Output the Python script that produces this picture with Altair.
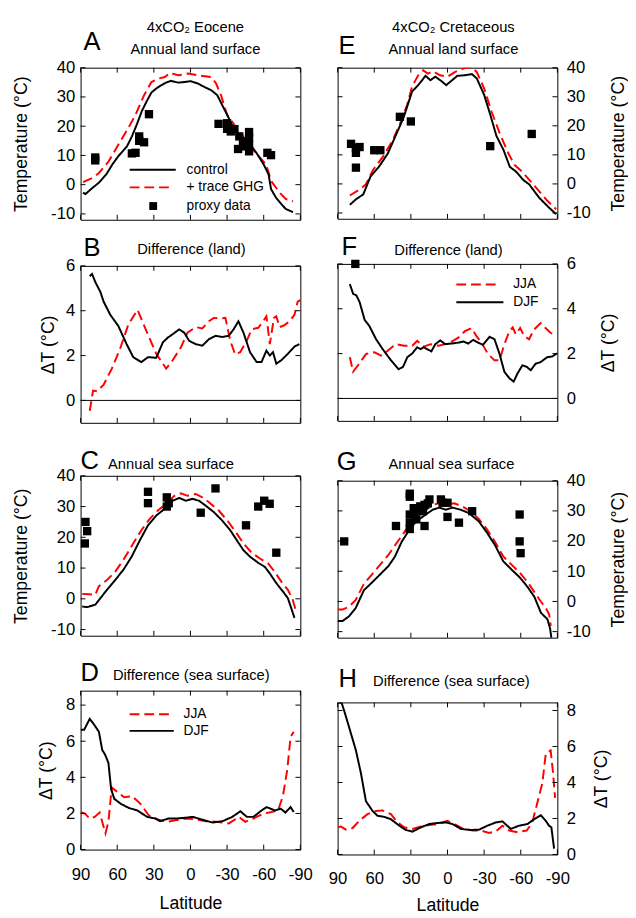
import altair as alt
import pandas as pd

FONT = "Liberation Sans"
RED = "#ff0000"
LAT_TICKS = [90, 60, 30, 0, -30, -60, -90]
T_TICKS = [-10, 0, 10, 20, 30, 40]
D_TICKS = [0, 2, 4, 6]
D8_TICKS = [0, 2, 4, 6, 8]

# ---------------- Panel A : 4xCO2 Eocene, annual land surface ----------------
a_ctrl_lat = [88, 86, 80, 75, 69, 64, 59, 52, 48, 44, 40, 36, 32, 28, 24, 20, 16, 10, 5, 0,
              -6, -11, -17, -22, -26, -30, -34, -38, -44, -49, -54, -60, -64, -66, -70, -74, -78, -84]
a_ctrl_t = [-2.7, -3.2, -1.0, 0.7, 3.5, 6.9, 9.8, 13.1, 16.5, 20.5, 25.0, 28.4, 31.5, 32.9, 34.0, 34.9,
            35.5, 34.9, 35.1, 35.4, 34.6, 33.5, 32.3, 30.6, 27.2, 23.9, 20.5, 18.2, 15.4, 13.7, 10.9,
            6.9, 3.5, -1.5, -4.4, -6.4, -8.3, -9.4]
a_ghg_lat = [88, 80, 75, 67, 59, 51, 45, 38, 32, 26, 21, 17, 10, 2, -6, -17, -21, -25, -30, -36,
             -44, -49, -57, -62, -66, -73, -78, -84]
a_ghg_t = [0.9, 2.4, 4.0, 8.0, 13.7, 19.3, 23.9, 30.6, 35.1, 36.3, 36.8, 38.2, 37.4, 38.0, 37.4,
           36.8, 34.6, 30.6, 23.9, 20.5, 16.0, 13.1, 9.2, 6.9, 1.3, -2.7, -4.9, -5.7]
a_proxy_lat = [78, 78, 48, 45, 42, 42, 38, 34, -23, -30, -30, -33, -36, -40, -43, -39, -45,
               -48, -48, -48, -48, -63, -66]
a_proxy_t = [9.3, 8.3, 10.7, 10.9, 15.0, 16.5, 14.5, 24.1, 20.8, 21.0, 19.1, 18.2, 19.0, 16.5,
             14.8, 12.2, 13.1, 18.0, 16.0, 13.7, 11.4, 10.9, 10.1]

# ---------------- Panel B : difference (land), Eocene ----------------
b_djf_lat = [82.5, 80.6, 77.9, 73.8, 71.1, 65.7, 59, 52.3, 46.9, 40.2, 34.8, 28, 22.6, 18.6, 14.6,
             9.2, 5.1, 1.1, -4.3, -9.7, -15.1, -20.5, -25.9, -31.3, -35.3, -39.3, -43.4, -48.8,
             -54.2, -58.2, -62.2, -65, -67.6, -70.3, -74.4, -79.8, -85.2, -89.2]
b_djf = [5.54, 5.64, 5.27, 4.84, 4.4, 3.82, 3.31, 2.51, 1.93, 1.71, 1.93, 1.9, 2.59, 2.8, 2.95,
         3.17, 3.02, 2.66, 2.51, 2.44, 2.73, 2.88, 2.83, 2.88, 3.17, 3.53, 3.02, 2.15, 1.71, 1.71,
         2.22, 2.0, 2.15, 1.64, 1.79, 2.08, 2.4, 2.51]
b_jja_lat = [82.5, 79.8, 76.5, 71.1, 64.4, 57.7, 50.9, 43.4, 36.1, 28, 19.9, 14.6, 7.8, 2.4, -4.3,
             -9.7, -15.1, -19.1, -24.5, -28.6, -32.6, -36.6, -40.7, -46.1, -50.1, -55.5, -59.6,
             -62.2, -65, -68.4, -70.3, -73, -77.1, -81.1, -85.2, -87.8, -90]
b_jja = [-0.47, 0.44, 0.41, 0.7, 1.42, 2.3, 3.38, 4.04, 3.1, 2.08, 1.42, 1.79, 2.37, 3.02, 3.27,
         3.21, 3.53, 3.68, 3.65, 3.68, 2.66, 2.05, 2.15, 2.66, 3.17, 3.24, 3.53, 3.75, 2.51, 3.68,
         3.75, 3.27, 3.36, 3.53, 3.82, 4.4, 4.47]

# ---------------- Panel C : annual sea surface, Eocene ----------------
c_ctrl_lat = [88.7, 84.6, 77.9, 73.8, 68.4, 61.7, 55, 48.2, 41.5, 34.8, 28, 21.3, 14.6, 9.2, 3.8,
              -1.6, -7, -12.4, -19.1, -25.9, -32.6, -38, -43.4, -48.8, -55.5, -60.9, -64.9, -70.3,
              -75.7, -79.8, -82.5, -85.2]
c_ctrl_t = [-2.5, -2.7, -1.9, 0.2, 2.9, 6.1, 9.4, 13.7, 19.0, 23.9, 27.1, 29.2, 31.9, 32.8, 31.9,
            32.5, 31.9, 30.3, 28.2, 25.5, 22.3, 19.0, 15.8, 13.7, 11.7, 10.4, 8.3, 5.1, 2.4, 0.2,
            -3.0, -6.2]
c_ghg_lat = [88.7, 83.3, 77.9, 75.2, 68.4, 61.7, 55, 46.9, 40.2, 33.4, 26.7, 20, 13.2, 7.8, 2.4,
             -4.3, -9.7, -15.1, -23.2, -31.3, -38, -43.4, -50.1, -56.9, -63.6, -69, -74.4, -79.8,
             -83.8, -86.5]
c_ghg_t = [1.6, 1.5, 1.3, 4.0, 6.1, 8.8, 12.6, 18.0, 22.3, 26.0, 28.7, 30.9, 33.5, 34.3, 33.5, 34.1,
           33.0, 31.4, 28.7, 24.9, 21.2, 18.0, 15.0, 13.1, 11.5, 8.8, 5.6, 2.9, -0.3, -4.1]
c_proxy_lat = [86, 84.6, 86.5, 34.8, 34.8, 19.4, 19.4, 17.8, -8.4, -20.5, -45.5, -55.5, -60.4,
               -64.9, -70.3]
c_proxy_t = [25, 22, 18, 34.8, 31.1, 33, 30, 31.1, 28, 35.9, 23.9, 30, 31.9, 30.9, 15]

# ---------------- Panel D : difference (sea surface), Eocene ----------------
d_djf_lat = [90, 87, 82.5, 78.5, 75, 72.3, 69.9, 67.2, 65, 62.4, 57, 50.3, 43.6, 35.5, 28.8, 24.8,
             18.1, 11.4, 4.7, -2, -8.7, -18.1, -26.2, -34.2, -40.9, -46.3, -51.6, -58.3, -62.4,
             -69.1, -74, -77.7, -82, -84.6]
d_djf = [6.64, 6.64, 7.24, 6.88, 6.52, 5.52, 5.25, 4.8, 3.35, 2.81, 2.53, 2.3, 2.17, 1.81, 1.72,
         1.57, 1.72, 1.72, 1.76, 1.81, 1.67, 1.5, 1.57, 1.81, 2.12, 1.81, 1.81, 2.17, 2.35, 2.17,
         2.26, 2.05, 2.35, 2.08]
d_jja_lat = [90, 86.5, 82.5, 78.5, 74.4, 72.3, 69.6, 67.2, 64.5, 59.7, 54.3, 47.6, 40.9, 34.2,
             27.5, 19.4, 11.4, 3.4, -4.7, -12.7, -20.8, -31.5, -39.6, -44.9, -51.6, -59.7, -66.4,
             -71.8, -75.8, -79.3, -82, -84.6]
d_jja = [2.08, 1.99, 1.72, 1.81, 2.05, 1.54, 0.9, 1.54, 3.44, 3.17, 2.9, 2.95, 2.53, 1.9, 1.68,
         1.54, 1.63, 1.72, 1.67, 1.57, 1.54, 1.45, 1.81, 1.54, 1.72, 1.99, 2.08, 2.17, 2.99, 4.43,
         6.24, 6.52]

# ---------------- Panel E : 4xCO2 Cretaceous, annual land surface ----------------
e_ctrl_lat = [80, 75, 69, 63, 56, 49, 43, 36, 29, 24, 18, 14, 10, 5, 1, -3, -8, -14, -20, -24,
              -30, -35, -40, -46, -51, -56, -62, -67, -75, -83, -89]
e_ctrl_t = [-7.2, -5.3, -3.6, 2.6, 6.0, 10.4, 16.1, 22.8, 31.8, 34.0, 37.2, 35.7, 36.9, 35.4, 34.0,
            35.4, 37.2, 37.4, 37.8, 36.3, 30.7, 23.9, 16.6, 11.6, 5.9, 4.3, 1.4, -0.2, -4.7, -8.1,
            -10.4]
e_ghg_lat = [80, 72, 67, 61, 53, 45, 39, 33, 29, 24, 20, 16, 12, 6, 0, -6, -14, -20, -24, -30,
             -36, -43, -50, -55, -61, -67, -75, -82, -89]
e_ghg_t = [-4.0, -1.9, -0.2, 4.8, 9.3, 14.9, 20.6, 27.3, 33.5, 37.4, 39.1, 38.0, 38.8, 37.4, 36.9,
           38.5, 39.9, 40.2, 38.5, 32.9, 25.0, 17.2, 10.4, 6.5, 4.3, 1.4, -2.5, -5.9, -8.7]
e_proxy_lat = [79, 75, 72, 75, 75, 60, 55, 39, 30, -35, -69]
e_proxy_t = [13.8, 12.5, 12.7, 10.7, 5.6, 11.6, 11.6, 23.1, 21.5, 13.0, 17.2]

# ---------------- Panel F : difference (land), Cretaceous ----------------
f_djf_lat = [80, 77.3, 74.6, 72, 67.9, 63.9, 58.5, 53.1, 46.3, 40.1, 36.4, 32.9, 28.8, 24.8, 22.1,
             19.4, 16.7, 13.2, 10, 5.9, 1.9, -3.5, -8.9, -12.9, -17, -21, -25.1, -29.1, -34.5,
             -38.5, -42.6, -46.6, -50.7, -54.2, -57.4, -61.4, -64.9, -68.2, -72.2, -76.3, -81.6,
             -85.7, -89.7]
f_djf = [5.1, 4.67, 4.59, 4.3, 3.51, 3.22, 2.64, 2.2, 1.7, 1.3, 1.41, 1.84, 2.01, 2.28, 2.2, 2.28,
         2.2, 2.1, 2.42, 2.59, 2.42, 2.45, 2.49, 2.54, 2.45, 2.61, 2.49, 2.39, 2.75, 2.64, 1.99,
         1.19, 0.9, 0.75, 1.12, 1.48, 1.41, 1.26, 1.55, 1.62, 1.84, 1.87, 2.01]
f_jja_lat = [80, 77.3, 73.3, 66.6, 59.8, 54.4, 49, 42.3, 35.6, 28.8, 24.8, 19.4, 14, 7.3, 1.9,
             -3.5, -8.9, -14.3, -19.7, -23.7, -27.8, -33.1, -38.5, -42.6, -46.6, -50.7, -53.4,
             -56, -59.5, -62.8, -66.8, -70.9, -76.3, -80.3, -84.3, -89.2]
f_jja = [1.84, 1.19, 1.48, 1.99, 2.06, 1.91, 2.13, 2.42, 2.35, 2.35, 2.57, 2.31, 2.42, 2.35, 2.42,
         2.54, 2.71, 3.0, 3.14, 2.78, 2.49, 1.99, 1.7, 1.7, 2.42, 3.0, 3.17, 2.86, 3.14, 2.78,
         2.64, 3.07, 3.36, 3.14, 2.93, 2.78]
f_proxy_lat = [75.5]
f_proxy_v = [6.0]

# ---------------- Panel G : annual sea surface, Cretaceous ----------------
g_ctrl_lat = [90, 86, 80.6, 75.2, 68.5, 61.8, 55.1, 48.4, 43, 37.6, 30.9, 25.5, 18.8, 12.1, 6.7,
              1.3, -4, -10.7, -17.5, -25.5, -32.2, -39, -45.7, -52.4, -59.1, -65.8, -71.2, -76.6,
              -81.9, -84.1, -85.2]
g_ctrl_t = [-6.5, -6.5, -4.9, -2.2, 3.7, 6.3, 9.0, 11.7, 14.9, 19.7, 24.0, 26.6, 28.5, 30.4, 31.1,
            30.4, 31.1, 30.4, 29.3, 26.6, 22.9, 18.6, 13.3, 10.6, 8.0, 4.7, 1.5, -3.8, -5.9, -9.1,
            -12.4]
g_ghg_lat = [90, 86, 80.6, 75.2, 68.5, 61.8, 55.1, 48.4, 43, 36.3, 30.9, 25.5, 18.8, 12.1, 5.4, 0,
             -5.4, -12.1, -18.8, -25.5, -32.2, -39, -45.7, -52.4, -59.1, -65.8, -71.2, -76.6,
             -80.6, -83.3, -84.6]
g_ghg_t = [-2.7, -2.7, -1.7, 0.5, 5.8, 9.0, 12.2, 15.4, 18.6, 22.4, 25.6, 28.0, 29.9, 32.0, 32.7,
           32.2, 32.5, 31.5, 29.9, 27.4, 24.0, 19.7, 14.9, 12.2, 9.6, 6.3, 3.1, -0.1, -2.2, -4.3,
           -8.1]
g_proxy_lat = [84.6, 42.2, 30.9, 30.9, 30.9, 30.9, 30.9, 27.7, 26.9, 25.5, 25, 22.3, 20.1, 18.8,
               18.8, 16.1, 14.8, 5.4, 4, 0, 0, -9.4, -20.2, -59.1, -59.1, -59.9]
g_proxy_t = [19.9, 25, 35.7, 34.7, 28.8, 26.1, 24, 30.9, 28.8, 27.2, 30.4, 31.5, 29.9, 32, 25,
             32.5, 33.8, 33.8, 32.7, 32.7, 28, 26.1, 29.9, 28.8, 19.9, 16]

# ---------------- Panel H : difference (sea surface), Cretaceous ----------------
h_djf_lat = [90, 86.7, 84.5, 80.5, 75, 70.9, 66.8, 61.4, 57.3, 51.8, 46.4, 39.5, 34.1, 28.6, 21.8,
             15, 8.2, 1.4, -4.1, -10.9, -19.1, -25.9, -32.7, -39.5, -45, -51.8, -58.6, -65.5,
             -70.9, -76.4, -80.5, -83.2, -85.1, -87.3]
h_djf = [8.45, 8.42, 7.96, 7.05, 5.78, 4.51, 2.96, 2.42, 2.15, 2.09, 1.96, 1.6, 1.36, 1.27, 1.51,
         1.69, 1.75, 1.78, 1.69, 1.42, 1.36, 1.38, 1.6, 1.78, 1.84, 1.42, 1.6, 1.69, 1.96, 2.18,
         1.87, 1.6, 1.51, 0.33]
h_jja_lat = [90, 87.3, 83.2, 77.7, 72.3, 65.5, 58.6, 53.2, 46.4, 40.9, 35.5, 28.6, 21.8, 15, 8.2,
             0, -5.5, -12.3, -20.5, -27.3, -34.1, -39.5, -45, -50.5, -57.3, -64.9, -69.5, -73.6,
             -77.7, -80.5, -84.5, -86.5, -88.1]
h_jja = [1.51, 1.55, 1.38, 1.47, 1.87, 2.24, 2.42, 2.45, 2.24, 1.78, 1.51, 1.42, 1.56, 1.64, 1.69,
         1.87, 1.69, 1.45, 1.33, 1.33, 1.2, 1.27, 1.6, 1.33, 1.24, 1.33, 1.78, 2.87, 3.96, 5.6,
         5.78, 4.51, 3.15]

W = 224


def one(**kw):
    return pd.DataFrame({k: [v] for k, v in kw.items()})


def txt(s, x, y, size, align="left", baseline="alphabetic"):
    return alt.Chart(one(t=s)).mark_text(
        align=align, baseline=baseline, fontSize=size, font=FONT, color="black"
    ).encode(text="t:N", x=alt.value(x), y=alt.value(y))


def leg_line(x1, x2, y, red):
    return alt.Chart(one(a=0)).mark_rule(
        color=RED if red else "black", strokeWidth=2,
        strokeDash=[10, 5] if red else [1, 0]
    ).encode(x=alt.value(x1), x2=alt.value(x2), y=alt.value(y))


def panel(red, black, pts, ydom, yticks, H, side, ytitle, title_x, texts,
          legend=(), zero=False, xlab=False, xlab_pad=22, xtitle_y=49):
    xscale = alt.Scale(domain=[90, -90], nice=False, zero=False)
    yscale = alt.Scale(domain=ydom, nice=False, zero=False)
    rows = [{"lat": a, "val": b, "s": "r"} for a, b in zip(*red)]
    rows += [{"lat": a, "val": b, "s": "k"} for a, b in zip(*black)]
    df = pd.DataFrame(rows)
    if xlab:
        xaxis = alt.Axis(values=LAT_TICKS, labelExpr="'' + datum.value", ticks=False, tickSize=0,
                         domain=False, grid=False, labelFontSize=17, labelFont=FONT,
                         labelColor="black", labelPadding=xlab_pad, labelBaseline="middle",
                         labelFlush=False, labelOverlap=False, title="Latitude",
                         titleFontSize=18, titleFont=FONT, titleFontWeight="normal",
                         titleColor="black", titleY=xtitle_y, titleBaseline="middle")
    else:
        xaxis = None
    yaxis = alt.Axis(orient=side, values=yticks, labelExpr="'' + datum.value", ticks=False,
                     tickSize=0, domain=False, grid=False, labelFontSize=17, labelFont=FONT,
                     labelColor="black", labelPadding=6 if side == "left" else 9,
                     labelFlush=False, labelOverlap=False, title=ytitle, titleFontSize=18,
                     titleFont=FONT, titleFontWeight="normal", titleColor="black",
                     titleAngle=270, titleX=title_x, titleY=H / 2, titleAlign="center",
                     titleBaseline="middle")

    def X(field):
        return alt.X(field, scale=xscale, axis=xaxis, title="Latitude" if xlab else None)

    def Y(field):
        return alt.Y(field, scale=yscale, axis=yaxis, title=ytitle)

    lines = alt.Chart(df).mark_line(strokeWidth=2, clip=True).encode(
        x=X("lat:Q"), y=Y("val:Q"),
        color=alt.Color("s:N", scale=alt.Scale(domain=["r", "k"], range=[RED, "black"]), legend=None),
        strokeDash=alt.StrokeDash("s:N", scale=alt.Scale(domain=["r", "k"], range=[[10, 5], [1, 0]]),
                                  legend=None),
        detail="s:N",
    )
    layers = [lines]
    if pts is not None:
        pdf = pd.DataFrame({"lat": pts[0], "val": pts[1]})
        layers.append(alt.Chart(pdf).mark_square(size=72, color="black", opacity=1).encode(
            x=X("lat:Q"), y=Y("val:Q")))
    if zero:
        layers.append(alt.Chart(pd.DataFrame({"val": [0]})).mark_rule(color="black", strokeWidth=1).encode(
            y=Y("val:Q"), x=alt.value(0), x2=alt.value(W)))
    # inward ticks on all four sides
    ydf = pd.DataFrame({"val": yticks})
    xdf = pd.DataFrame({"lat": LAT_TICKS})
    for x1, x2 in [(0, 5), (W - 5, W)]:
        layers.append(alt.Chart(ydf).mark_rule(color="black", strokeWidth=1).encode(
            y=Y("val:Q"), x=alt.value(x1), x2=alt.value(x2)))
    for y1, y2 in [(0, 5), (H - 5, H)]:
        layers.append(alt.Chart(xdf).mark_rule(color="black", strokeWidth=1).encode(
            x=X("lat:Q"), y=alt.value(y1), y2=alt.value(y2)))
    for t in texts:
        layers.append(txt(*t))
    for item in legend:
        kind = item[0]
        if kind == "line":
            layers.append(leg_line(*item[1:]))
        elif kind == "sq":
            layers.append(alt.Chart(one(a=0)).mark_square(size=64, color="black", opacity=1).encode(
                x=alt.value(item[1]), y=alt.value(item[2])))
        else:
            layers.append(txt(item[1], item[2], item[3], 14, "left", "middle"))
    return alt.layer(*layers).properties(width=W, height=H)


TT = "Temperature (°C)"
DT = "ΔT (°C)"

A = panel((a_ghg_lat, a_ghg_t), (a_ctrl_lat, a_ctrl_t), (a_proxy_lat, a_proxy_t), [-12, 40], T_TICKS,
          155, "left", TT, -60,
          [("A", 3, -18, 26), ("4xCO₂ Eocene", 117, -41, 15, "center", "middle"),
           ("Annual land surface", 117, -19, 15, "center", "middle")],
          legend=[("line", 50, 97, 104, False), ("line", 50, 93, 122, True), ("sq", 74, 141),
                  ("t", "control", 108, 104), ("t", "+ trace GHG", 108, 122), ("t", "proxy data", 108, 141)])
B = panel((b_jja_lat, b_jja), (b_djf_lat, b_djf), None, [-1, 6], D_TICKS, 160, "left", DT, -33,
          [("B", 3, -10, 26), ("Difference (land)", 113, -17, 15, "center", "middle")], zero=True)
C = panel((c_ghg_lat, c_ghg_t), (c_ctrl_lat, c_ctrl_t), (c_proxy_lat, c_proxy_t), [-12, 40], T_TICKS,
          163, "left", TT, -60,
          [("C", 0, -7, 26), ("Annual sea surface", 28, -12, 15, "left", "middle")])
D = panel((d_jja_lat, d_jja), (d_djf_lat, d_djf), None, [0, 8.8], D8_TICKS, 162, "left", DT, -35,
          [("D", 0, -10, 26), ("Difference (sea surface)", 33, -16, 15, "left", "middle")],
          legend=[("line", 50, 93, 24, True), ("line", 50, 95, 41, False),
                  ("t", "JJA", 105, 24), ("t", "DJF", 105, 41)],
          xlab=True, xlab_pad=26, xtitle_y=55)
E = panel((e_ghg_lat, e_ghg_t), (e_ctrl_lat, e_ctrl_t), (e_proxy_lat, e_proxy_t), [-12, 40], T_TICKS,
          154, "right", TT, 62,
          [("E", 1, -14, 26), ("4xCO₂ Cretaceous", 118, -41, 15, "center", "middle"),
           ("Annual land surface", 118, -19, 15, "center", "middle")])
F = panel((f_jja_lat, f_jja), (f_djf_lat, f_djf), (f_proxy_lat, f_proxy_v), [-1, 6], D_TICKS, 160,
          "right", DT, 52,
          [("F", 4, -9, 26), ("Difference (land)", 113, -14, 15, "center", "middle")],
          legend=[("line", 121, 163, 21, True), ("line", 121, 169, 39, False),
                  ("t", "JJA", 179, 21), ("t", "DJF", 179, 39)], zero=True)
G = panel((g_ghg_lat, g_ghg_t), (g_ctrl_lat, g_ctrl_t), (g_proxy_lat, g_proxy_t), [-12, 40], T_TICKS,
          160, "right", TT, 62,
          [("G", -1, -11, 26), ("Annual sea surface", 116, -17, 15, "center", "middle")])
Hp = panel((h_jja_lat, h_jja), (h_djf_lat, h_djf), None, [0, 8.45], D8_TICKS, 155, "right", DT, 45,
           [("H", 1, -16, 26), ("Difference (sea surface)", 116, -22, 15, "center", "middle")],
           xlab=True, xlab_pad=25, xtitle_y=52)

left = alt.vconcat(alt.vconcat(A, B, spacing=47, bounds="flush"),
                   alt.vconcat(C, D, spacing=56, bounds="flush"), spacing=24)
right = alt.vconcat(alt.vconcat(E, F, spacing=46, bounds="flush"),
                    alt.vconcat(G, Hp, spacing=66, bounds="flush"), spacing=27)

chart = alt.hconcat(left, right, spacing=15).properties(
    padding={"left": 4, "top": 3, "right": 0, "bottom": 0}, background="white"
).configure_view(stroke="black", strokeWidth=1)

chart.save("out.html", embed_options={"renderer": "svg", "actions": False})
